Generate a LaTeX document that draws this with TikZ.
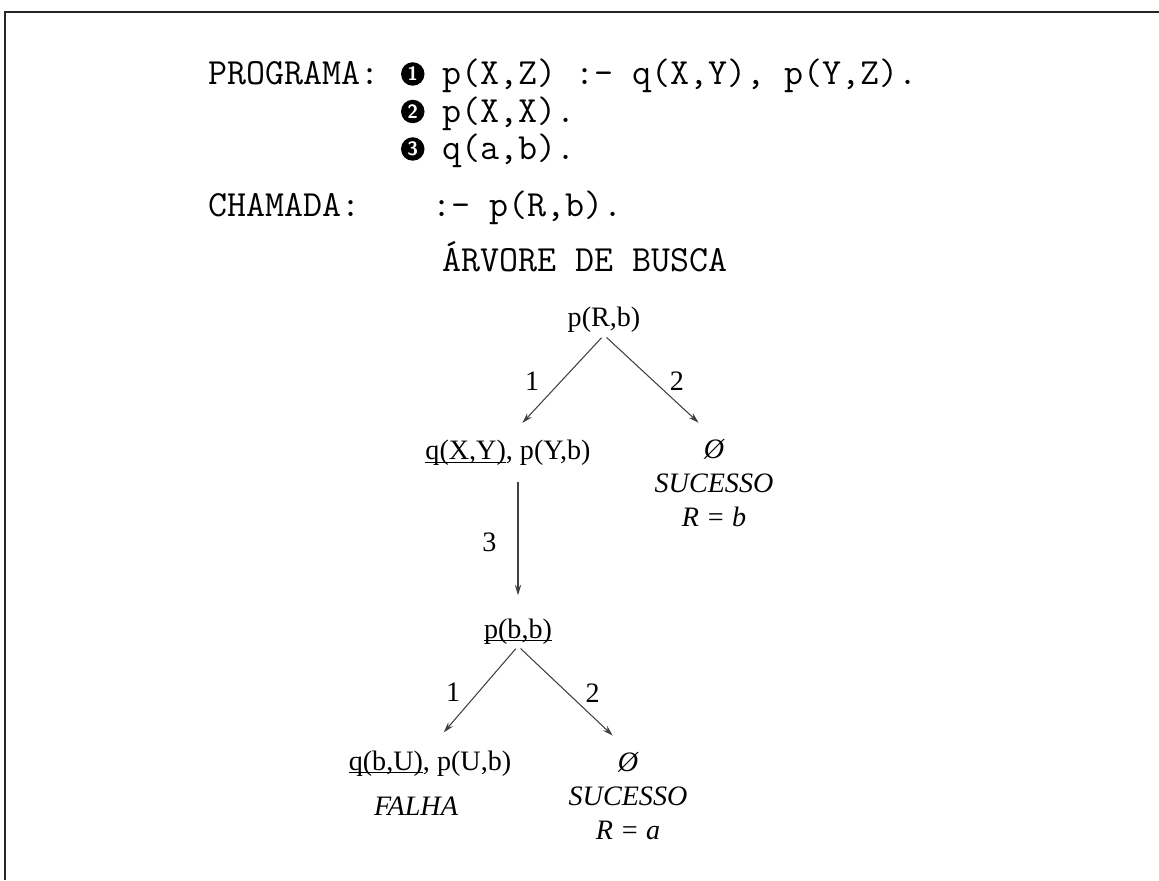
\documentclass[tikz,border=0pt]{standalone}
\usepackage{fontspec}
\usepackage{tikz}
\usetikzlibrary{arrows.meta}

\newfontfamily\treefont{Liberation Serif}
% underline that cuts through descenders, as in the printed tree
\newcommand{\selgoal}[1]{\setbox0\hbox{#1}\rlap{\rule[-1.7pt]{\wd0}{0.6pt}}\box0}

\begin{document}
\begin{tikzpicture}[
        declare function={
            Width=23.18;
            Height=17.6;
            LabelX=4.16;
            CodeX=8.84;
            BulletX=8.255;
        },
        code/.style={anchor=base west, inner sep=0pt, font=\fontsize{21}{25}\selectfont\ttfamily},
        bullet/.style={circle, fill=black, text=white, inner sep=0pt, minimum size=0.47cm, font=\fontsize{11}{11}\selectfont\sffamily\bfseries},
        goal/.style={anchor=base, inner sep=1pt, font=\fontsize{16}{19.4}\selectfont\treefont},
        failtext/.style={goal, font=\fontsize{16}{19.4}\selectfont\treefont\itshape},
        result/.style={anchor=north, inner sep=1pt, align=center, font=\fontsize{16}{19.4}\selectfont\treefont\itshape},
        branch/.style={-{Stealth[length=6pt,width=3.6pt]}, black!75, line width=0.6pt, shorten <=2pt, shorten >=12pt},
        num/.style={inner sep=0pt, text=black, font=\fontsize{16}{19}\selectfont\treefont},
    ]
        \useasboundingbox (0,0) rectangle (Width,Height);

        % frame
        \draw[line width=1.2pt, black!85] (0.1,0) -- (0.1,17.36) -- (Width,17.36);

        % program and call
        \node[code] (prog) at (LabelX,15.9) {PROGRAMA:};
        \node[bullet] (b1) at (BulletX,16.12) {1};
        \node[code] (c1) at (CodeX,15.9) {p(X,Z) :- q(X,Y), p(Y,Z).};
        \node[bullet] (b2) at (BulletX,15.37) {2};
        \node[code] (c2) at (CodeX,15.15) {p(X,X).};
        \node[bullet] (b3) at (BulletX,14.62) {3};
        \node[code] (c3) at (CodeX,14.4) {q(a,b).};

        \node[code] (call) at (LabelX,13.26) {CHAMADA:};
        \node[code] (query) at (8.64,13.26) {:- p(R,b).};

        \node[code] (title) at (CodeX,12.16) {ÁRVORE DE BUSCA};

        % search tree
        \node[goal] (root) at (12.08,11.06) {p(R,b)};
        \node[goal] (qxy) at (10.16,8.4) {\selgoal{q(X,Y)}, p(Y,b)};
        \node[result] (ok1) at (14.28,8.86) {Ø\\SUCESSO\\R = b};
        \node[goal] (pbb) at (10.36,4.84) {\selgoal{p(b,b)}};
        \node[goal] (qbu) at (8.6,2.2) {\selgoal{q(b,U)}, p(U,b)};
        \node[failtext] (fail) at (8.32,1.3) {FALHA};
        \node[result] (ok2) at (12.56,2.6) {Ø\\SUCESSO\\R = a};

        \draw[branch] (root.south) -- node[num, pos=0.45, left=12pt] {1} (qxy.north);
        \draw[branch] (root.south) -- node[num, pos=0.45, right=9pt] {2} (ok1.north);
        \draw[branch, shorten <=8pt] (qxy.south -| pbb.north) -- node[num, left=12pt] {3} (pbb.north);
        \draw[branch] (pbb.south) -- node[num, pos=0.45, left=10pt] {1} (qbu.north);
        \draw[branch] (pbb.south) -- node[num, pos=0.45, right=10pt] {2} (ok2.north);
    \end{tikzpicture}
\end{document}
